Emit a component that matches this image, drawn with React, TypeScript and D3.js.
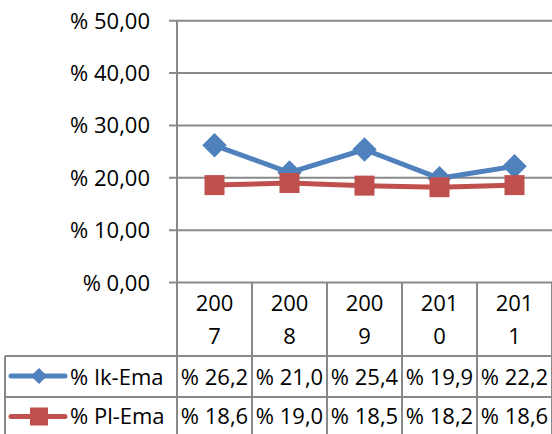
import * as d3 from 'd3';

const years = ['2007', '2008', '2009', '2010', '2011'];
const ikEma = [26.2, 21.0, 25.4, 19.9, 22.2];
const plEma = [18.6, 19.0, 18.5, 18.2, 18.6];
const seriesNames = ['% Ik-Ema', '% Pl-Ema'];
const yTicks = [0, 10, 20, 30, 40, 50];

const W = 552;
const H = 434;
const FONT = '"Open Sans", "Liberation Sans", sans-serif';
const GRID = '#898989';
const BLUE = '#4F81BD';
const RED = '#C0504D';

const fmtTick = (v: number) => '% ' + v.toFixed(2).replace('.', ',');
const fmtVal = (v: number) => '% ' + v.toFixed(1).replace('.', ',');

export default function App() {
  const x = d3.scaleBand<string>().domain(years).range([177, 552]);
  const y = d3.scaleLinear().domain([0, 50]).range([282.5, 20.7]);
  const cx = (d: string) => (x(d) ?? 0) + x.bandwidth() / 2;

  const line = d3.line<number>()
    .x((_, i) => cx(years[i]))
    .y(d => y(d));

  const headBottom = 356;
  const row1Bottom = 397;
  const rowH = row1Bottom - headBottom;
  const rows = [ikEma, plEma];
  const key1Y = headBottom + rowH / 2 - 0.5;

  return (
    <svg width={W} height={H} style={{ position: 'absolute', left: 0, top: 0, background: '#fff' }}
      fontFamily={FONT}>
      {/* gridlines + ticks */}
      {yTicks.map(t => (
        <g key={t}>
          <line x1={169} x2={W} y1={y(t)} y2={y(t)} stroke={GRID} strokeWidth={2} />
          <text x={150} y={y(t) + 8} textAnchor="end" fontSize={22} fill="#000">{fmtTick(t)}</text>
        </g>
      ))}

      {/* value axis + table vertical lines */}
      <line x1={177} x2={177} y1={y(50)} y2={H} stroke={GRID} strokeWidth={2} />
      {years.map(d => (
        <line key={d} x1={(x(d) ?? 0) + x.bandwidth()} x2={(x(d) ?? 0) + x.bandwidth()}
          y1={y(0)} y2={H} stroke={GRID} strokeWidth={2} />
      ))}
      <line x1={5} x2={5} y1={headBottom} y2={H} stroke={GRID} strokeWidth={2} />
      <line x1={5} x2={W} y1={headBottom} y2={headBottom} stroke={GRID} strokeWidth={2} />
      <line x1={5} x2={W} y1={row1Bottom} y2={row1Bottom} stroke={GRID} strokeWidth={2} />

      {/* header: categories */}
      {years.map(d => (
        <text key={d} x={cx(d)} textAnchor="middle" fontSize={22} fill="#000">
          <tspan x={cx(d)} y={311}>{d.slice(0, 3)}</tspan>
          <tspan x={cx(d)} y={344}>{d.slice(3)}</tspan>
        </text>
      ))}

      {/* table values */}
      {rows.map((vals, r) => vals.map((v, i) => (
        <text key={`${r}-${i}`} x={cx(years[i])} y={385 + r * 39} textAnchor="middle" fontSize={22} fill="#000">
          {fmtVal(v)}
        </text>
      )))}

      {/* legend keys */}
      <line x1={11} x2={65} y1={key1Y} y2={key1Y} stroke={BLUE} strokeWidth={5} strokeLinecap="round" />
      <path d={d3.symbol(d3.symbolSquare, 130)() ?? ''} transform={`translate(39,${key1Y}) rotate(45)`} fill={BLUE} />
      <text x={70} y={385} fontSize={22} fill="#000">{seriesNames[0]}</text>
      <line x1={11} x2={65} y1={416.5} y2={416.5} stroke={RED} strokeWidth={5} strokeLinecap="round" />
      <rect x={30} y={407.5} width={18} height={18} fill={RED} />
      <text x={70} y={424} fontSize={22} fill="#000">{seriesNames[1]}</text>

      {/* series lines */}
      <path d={line(ikEma) ?? ''} fill="none" stroke={BLUE} strokeWidth={5} strokeLinejoin="round" />
      <path d={line(plEma) ?? ''} fill="none" stroke={RED} strokeWidth={5} strokeLinejoin="round" />
      {ikEma.map((v, i) => (
        <path key={i} d={d3.symbol(d3.symbolSquare, 300)() ?? ''}
          transform={`translate(${cx(years[i])},${y(v)}) rotate(45)`} fill={BLUE} />
      ))}
      {plEma.map((v, i) => (
        <rect key={i} x={cx(years[i]) - 10} y={y(v) - 10} width={20} height={20} fill={RED} />
      ))}
    </svg>
  );
}
